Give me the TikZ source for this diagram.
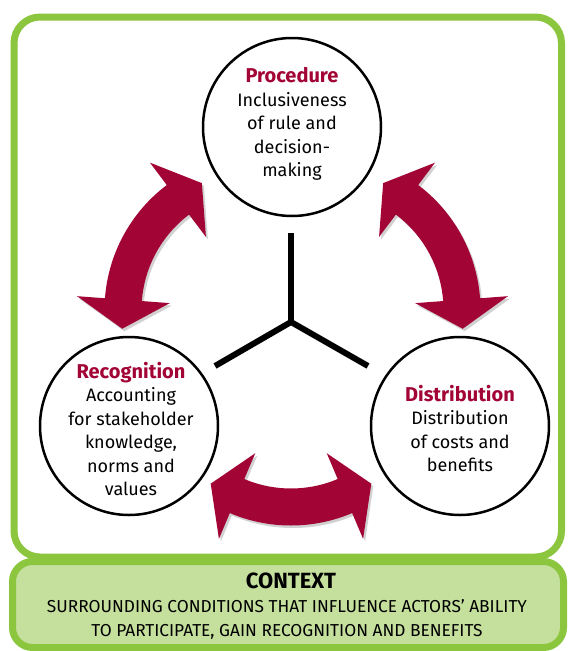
\documentclass[tikz,border=0pt]{standalone}
\usepackage{fontspec}
\setmainfont{Fira Sans}
\definecolor{crimson}{HTML}{A30436}
\definecolor{frame}{HTML}{8CC63F}
\definecolor{ctxfill}{HTML}{C5DF9D}
\newcommand\dblarc[4][]{%
  \fill[#1, shift={#2}] (#3:156.5) arc[start angle=#3, end angle=#4, radius=156.5]
    -- (#4:184.5) -- ({#4+12}:140) -- (#4:91.5) -- (#4:119.5)
    arc[start angle=#4, end angle=#3, radius=119.5]
    -- (#3:91.5) -- ({#3-12}:140) -- (#3:184.5) -- cycle;}
\newcommand\ttl[1]{{\color{crimson}\bfseries\fontsize{20}{23.5}\selectfont #1}}
\tikzset{
  circ/.style={circle, draw=black, line width=2.5, minimum size=178, inner sep=0},
  txt/.style={align=center, inner sep=0, font=\fontsize{18}{23.5}\selectfont},
  yline/.style={line width=6, black},
  arr/.style={fill=crimson},
  shad/.style={fill=black, opacity=0.18},
}
\begin{document}
\begin{tikzpicture}[x=1pt,y=-1pt]
\useasboundingbox (0,0) rectangle (568,651);
% outer frame
\draw[frame, line width=7, rounded corners=26, fill=white] (14,17) rectangle (561.5,557);
% context box
\node[draw=frame, line width=7, fill=ctxfill, rounded corners=20, minimum width=551, minimum height=86, inner sep=0] (ctx) at (288,604.5) {};
\node[font=\bfseries\fontsize{22}{24}\selectfont, inner sep=0] (ctxt) at (291,581) {CONTEXT};
\node[align=center, inner sep=0, font=\fontsize{17.3}{24.5}\selectfont] (ctxd) at (287,619.5)
  {SURROUNDING CONDITIONS THAT INFLUENCE ACTORS’ ABILITY\\TO PARTICIPATE, GAIN RECOGNITION AND BENEFITS};
% circles
\node[circ] (proc) at (292,127) {};
\node[circ] (reco) at (129,426) {};
\node[circ] (dist) at (460,426) {};
% Y lines
\coordinate (yc) at (291,322);
\coordinate (yt) at (291,233);
\coordinate (yl) at (215,366);
\coordinate (yr) at (368,366);
\draw[yline] (yt) -- (yc);
\draw[yline] (yl) -- (yc) -- (yr);
% arrows (shadows then arrows)
\dblarc[shad]{(263,312.5)}{184.3}{233}
\dblarc[shad]{(326,312.5)}{-53}{-4.3}
\dblarc[shad]{(293,371.5)}{67}{113}
\dblarc[arr]{(261,310)}{184.3}{233}
\dblarc[arr]{(324,310)}{-53}{-4.3}
\dblarc[arr]{(291,369)}{67}{113}
% texts
\node[txt] (proctxt) at (292,124) {\ttl{Procedure}\\Inclusiveness\\of rule and\\decision-\\making};
\node[txt] (recotxt) at (131,429) {\ttl{Recognition}\\Accounting\\for stakeholder\\knowledge,\\norms and\\values};
\node[txt] (disttxt) at (460,428.5) {\ttl{Distribution}\\Distribution\\of costs and\\benefits};
\end{tikzpicture}
\end{document}
